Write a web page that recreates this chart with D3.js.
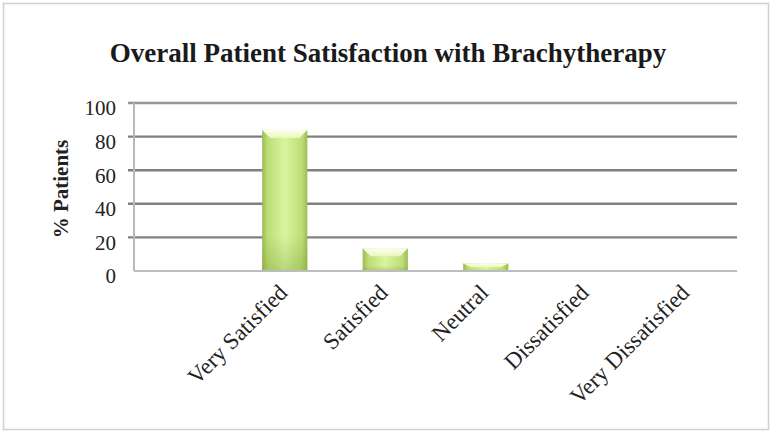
<!DOCTYPE html>
<html>
<head>
<meta charset="utf-8">
<script src="https://cdn.jsdelivr.net/npm/d3@7"></script>
<style>
  html, body { margin: 0; padding: 0; background: #fff; }
  svg { display: block; font-family: "Liberation Serif", "Times New Roman", serif; }
</style>
</head>
<body>
<svg id="chart" width="772" height="432"></svg>
<script>
// Survey responses: share of patients (%) per satisfaction level
const categories = ["Very Satisfied", "Satisfied", "Neutral", "Dissatisfied", "Very Dissatisfied"];
const percentPatients = [84, 13.5, 4.5, 0, 0];
const yTicks = [0, 20, 40, 60, 80, 100];
const chartTitle = "Overall Patient Satisfaction with Brachytherapy";
const yAxisTitle = "% Patients";

const data = categories.map((c, i) => ({ category: c, value: percentPatients[i] }));

const svg = d3.select("#chart");
const plot = { left: 134, right: 737, top: 103, bottom: 271 };

// Excel leaves an empty leading slot before the first category
const x = d3.scaleBand()
  .domain(["", ...categories])
  .range([plot.left, plot.right])
  .paddingInner(0.55)
  .paddingOuter(0.275);

const y = d3.scaleLinear().domain([0, 100]).range([plot.bottom, plot.top]);

// Outer chart frame
svg.append("rect")
  .attr("x", 3.5).attr("y", 3.5)
  .attr("width", 765).attr("height", 426)
  .attr("fill", "#fff")
  .attr("stroke", "#d0d0d0")
  .attr("stroke-width", 1.5);

// Gradients for the bevelled bars
const defs = svg.append("defs");
const side = defs.append("linearGradient").attr("id", "barSide")
  .attr("x1", "0").attr("x2", "1").attr("y1", "0").attr("y2", "0");
[["0%", "#9cbc52"], ["12%", "#bedd76"], ["50%", "#d9f4a0"], ["88%", "#bedd76"], ["100%", "#9cbc52"]]
  .forEach(([o, c]) => side.append("stop").attr("offset", o).attr("stop-color", c));
const shade = defs.append("linearGradient").attr("id", "barShade")
  .attr("x1", "0").attr("x2", "0").attr("y1", "0").attr("y2", "1");
[["0%", "#ffffff", 0], ["75%", "#6f8f2a", 0], ["100%", "#6f8f2a", 0.3]]
  .forEach(([o, c, a]) => shade.append("stop").attr("offset", o).attr("stop-color", c).attr("stop-opacity", a));
const cap = defs.append("linearGradient").attr("id", "barCap")
  .attr("x1", "0").attr("x2", "0").attr("y1", "0").attr("y2", "1");
[["0%", "#fdfff0"], ["100%", "#e8f8b8"]]
  .forEach(([o, c]) => cap.append("stop").attr("offset", o).attr("stop-color", c));

// Horizontal gridlines with small outside tick marks
const grid = svg.append("g");
grid.selectAll("line.grid")
  .data(yTicks.filter(t => t > 0))
  .join("line")
  .attr("class", "grid")
  .attr("x1", plot.left - 6).attr("x2", plot.right)
  .attr("y1", d => y(d)).attr("y2", d => y(d))
  .attr("stroke", d => d === 100 ? "#959595" : "#808080")
  .attr("stroke-width", 2.4);

// Vertical value axis line
svg.append("line")
  .attr("x1", plot.left).attr("x2", plot.left)
  .attr("y1", y(100)).attr("y2", y(0))
  .attr("stroke", "#b8b8b8").attr("stroke-width", 2);

// Bars
const bars = svg.append("g").selectAll("g.bar")
  .data(data.filter(d => d.value > 0))
  .join("g").attr("class", "bar");

bars.append("rect")
  .attr("x", d => x(d.category))
  .attr("y", d => y(d.value))
  .attr("width", x.bandwidth())
  .attr("height", d => y(0) - y(d.value))
  .attr("fill", "url(#barSide)");
bars.append("rect")
  .attr("x", d => x(d.category))
  .attr("y", d => y(d.value))
  .attr("width", x.bandwidth())
  .attr("height", d => y(0) - y(d.value))
  .attr("fill", "url(#barShade)");
// Bevelled highlight along the top edge
bars.append("path")
  .attr("d", d => {
    const x0 = x(d.category), x1 = x0 + x.bandwidth();
    const t = y(d.value);
    const h = Math.min(8, (y(0) - t) / 2);
    const inset = 8;
    return `M${x0},${t}L${x1},${t}L${x1 - inset},${t + h}L${x0 + inset},${t + h}Z`;
  })
  .attr("fill", "url(#barCap)");

// Category axis baseline
svg.append("line")
  .attr("x1", plot.left).attr("x2", plot.right)
  .attr("y1", y(0)).attr("y2", y(0))
  .attr("stroke", "#bdbdbd").attr("stroke-width", 2);

// Value axis tick labels
svg.append("g").selectAll("text")
  .data(yTicks)
  .join("text")
  .attr("x", plot.left - 18)
  .attr("y", d => y(d) + 5)
  .attr("dy", "0.35em")
  .attr("text-anchor", "end")
  .attr("font-size", 21)
  .attr("fill", "#222")
  .text(d => d);

// Rotated category labels
svg.append("g").selectAll("text")
  .data(categories)
  .join("text")
  .attr("transform", d => `translate(${x(d) + x.bandwidth() / 2 + 4},${y(0) + 23}) rotate(-45)`)
  .attr("text-anchor", "end")
  .attr("font-size", 23)
  .attr("fill", "#222")
  .text(d => d);

// Axis title
svg.append("text")
  .attr("transform", `translate(${68},${(y(0) + y(100)) / 2 + 2}) rotate(-90)`)
  .attr("text-anchor", "middle")
  .attr("font-size", 21)
  .attr("font-weight", "bold")
  .attr("fill", "#222")
  .text(yAxisTitle);

// Chart title
svg.append("text")
  .attr("x", 388).attr("y", 62)
  .attr("text-anchor", "middle")
  .attr("font-size", 27)
  .attr("font-weight", "bold")
  .attr("fill", "#1a1a1a")
  .text(chartTitle);
</script>
</body>
</html>
